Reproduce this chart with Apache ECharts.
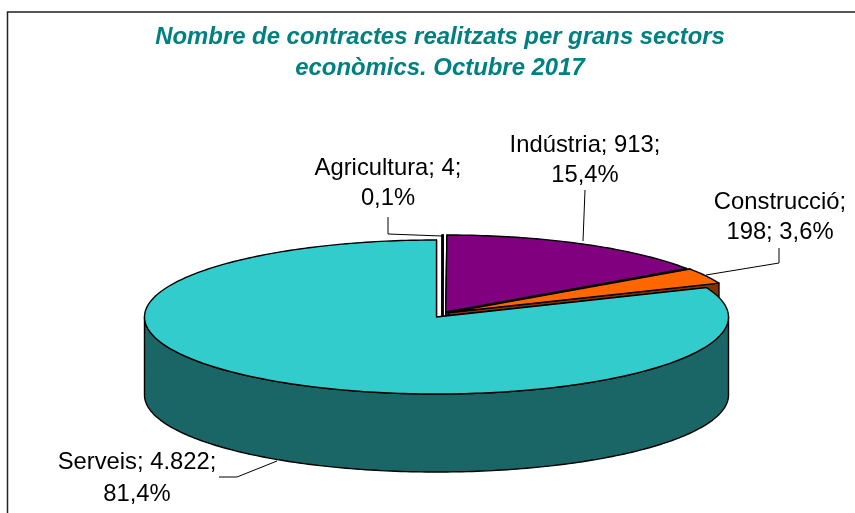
<!DOCTYPE html>
<html>
<head>
    <meta charset="utf-8">
    <title>Contractes per sectors</title>
    <script type="text/javascript" src="https://cdn.jsdelivr.net/npm/echarts@6/dist/echarts.min.js"></script>
    <style>
        html, body { margin: 0; padding: 0; background: #fff; }
    </style>
</head>
<body>
<div id="chartmain" style="width:855px; height:513px;"></div>

<script type="text/javascript">
    // dades llegides del gràfic
    var categories = ['Agricultura', 'Indústria', 'Construcció', 'Serveis'];
    var values = [4, 913, 198, 4822];
    var percents = ['0,1%', '15,4%', '3,6%', '81,4%'];
    var valueLabels = ['4', '913', '198', '4.822'];

    var topColors = ['#ffffff', '#800080', '#ff6600', '#33cccc'];
    var sideColors = ['#ffffff', '#400040', '#803300', '#1a6666'];

    // pastis 3D: el echarts no en te, es dibuixa amb custom
    var rx = 292, ry = 77, depth = 78;
    var centers = [[442, 312], [445.7, 312], [449, 312.5], [436.5, 317]];

    // on va cada etiqueta i la seva linia guia
    var labelPos = [[388, 168, 198], [585, 145, 175], [780, 202, 232], [137, 462, 494]];
    var guides = [
        [[388, 217], [388, 234], [442, 236]],
        [[585, 190], [583, 241]],
        [[779, 248], [779, 263], [706, 275]],
        [[219, 477], [237, 477], [277, 461]]
    ];

    var total = values.reduce(function (a, b) { return a + b; }, 0);
    var angles = [];
    var acc = 0;
    values.forEach(function (v) {
        angles.push([acc / total * 360, (acc + v) / total * 360]);
        acc += v;
    });

    function pt(c, deg, dy) {
        var r = deg * Math.PI / 180;
        return [c[0] + rx * Math.sin(r), c[1] - ry * Math.cos(r) + (dy || 0)];
    }

    function arc(c, from, to, dy) {
        var out = [];
        var n = Math.max(2, Math.ceil(Math.abs(to - from)));
        for (var i = 0; i <= n; i++) {
            out.push(pt(c, from + (to - from) * i / n, dy));
        }
        return out;
    }

    function poly(points, fill) {
        return {
            type: 'polygon',
            shape: { points: points },
            style: { fill: fill, stroke: '#000', lineWidth: 1.4, lineJoin: 'round' }
        };
    }

    function renderSlice(params) {
        var i = params.dataIndex;
        var c = centers[i];
        var a0 = angles[i][0], a1 = angles[i][1];
        var low = [c[0], c[1] + depth];
        var children = [];
        // cares del tall
        [a0, a1].forEach(function (a) {
            children.push(poly([c, pt(c, a), pt(c, a, depth), low], sideColors[i]));
        });
        // paret exterior, nomes la part de davant
        var w0 = Math.max(a0, 90), w1 = Math.min(a1, 270);
        if (w1 > w0) {
            children.push(poly(arc(c, w0, w1).concat(arc(c, w1, w0, depth)), sideColors[i]));
        }
        // tapa
        children.push(poly([c].concat(arc(c, a0, a1)), topColors[i]));
        return { type: 'group', children: children };
    }

    function renderLabel(params) {
        var i = params.dataIndex;
        var p = labelPos[i];
        var line1, line2;
        if (i === 2) {
            line1 = categories[i] + ';';
            line2 = valueLabels[i] + '; ' + percents[i];
        } else {
            line1 = categories[i] + '; ' + valueLabels[i] + ';';
            line2 = percents[i];
        }
        var font = { fontFamily: '"Liberation Sans", Arial', fontSize: 23.8, fill: '#000', align: 'center', verticalAlign: 'middle' };
        return {
            type: 'group',
            children: [
                { type: 'polyline', shape: { points: guides[i] }, style: { fill: null, stroke: '#000', lineWidth: 1 } },
                { type: 'text', style: Object.assign({ text: line1, x: p[0], y: p[1] }, font) },
                { type: 'text', style: Object.assign({ text: line2, x: p[0], y: p[2] }, font) }
            ]
        };
    }

    var option = {
        animation: false,
        backgroundColor: '#fff',
        title: {
            text: 'Nombre de contractes realitzats per grans sectors\neconòmics. Octubre 2017',
            left: 440,
            top: 17,
            textAlign: 'center',
            textStyle: {
                color: '#008080',
                fontFamily: '"Liberation Sans", Arial',
                fontStyle: 'italic',
                fontWeight: 'bold',
                fontSize: 23.9,
                lineHeight: 31
            }
        },
        graphic: [{
            type: 'polyline',
            shape: { points: [[7.5, 513], [7.5, 12], [855, 12]] },
            style: { fill: null, stroke: '#222', lineWidth: 1.5 }
        }],
        series: [{
            type: 'custom',
            coordinateSystem: 'none',
            silent: true,
            z: 2,
            data: categories.map(function (n, i) { return { name: n, value: values[i] }; }),
            renderItem: renderSlice
        }, {
            type: 'custom',
            coordinateSystem: 'none',
            silent: true,
            z: 3,
            data: categories.map(function (n, i) { return { name: n, value: values[i] }; }),
            renderItem: renderLabel
        }]
    };
    option.title.left = 435;

    var myChart = echarts.init(document.getElementById('chartmain'));
    myChart.setOption(option);
</script>
</body>
</html>
